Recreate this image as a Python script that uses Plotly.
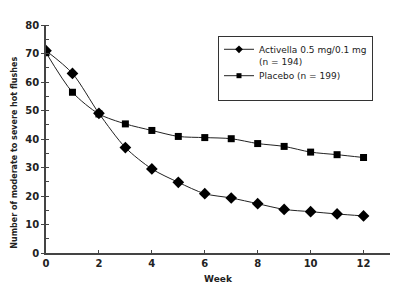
import plotly.graph_objects as go

weeks = list(range(13))
activella = [71, 63, 49, 37, 29.5, 24.8, 20.8, 19.3, 17.3, 15.3, 14.5, 13.7, 13.0]
placebo = [70.3, 56.4, 48.8, 45.3, 43.0, 40.9, 40.5, 40.1, 38.4, 37.4, 35.4, 34.5, 33.5]
xticks = [0, 2, 4, 6, 8, 10, 12]
yticks = [0, 10, 20, 30, 40, 50, 60, 70, 80]
names = ["Activella 0.5 mg/0.1 mg<br>(n = 194)", "Placebo (n = 199)<br>&nbsp;"]

fig = go.Figure()
line = dict(color="#222", width=1, shape="spline", smoothing=0.8)
fig.add_trace(go.Scatter(
    x=weeks, y=activella, mode="lines+markers", showlegend=False,
    line=line, marker=dict(symbol="diamond", size=9, color="black"),
))
fig.add_trace(go.Scatter(
    x=weeks, y=placebo, mode="lines+markers", showlegend=False,
    line=line, marker=dict(symbol="square", size=7, color="black"),
))
# legend entries with small symbols
fig.add_trace(go.Scatter(
    x=[None], y=[None], mode="lines+markers", name=names[0],
    line=dict(color="#222", width=1), marker=dict(symbol="diamond", size=6, color="black"),
))
fig.add_trace(go.Scatter(
    x=[None], y=[None], mode="lines+markers", name=names[1],
    line=dict(color="#222", width=1), marker=dict(symbol="square", size=5, color="black"),
))

fig.update_layout(
    width=400, height=297,
    margin=dict(l=46, r=10, t=25, b=44),
    paper_bgcolor="white", plot_bgcolor="white",
    font=dict(family="DejaVu Sans", size=9, color="#222"),
    showlegend=True,
    legend=dict(
        x=0.5, y=0.952, xanchor="left", yanchor="top",
        bordercolor="#333", borderwidth=1, bgcolor="white",
        font=dict(family="DejaVu Sans", size=9, color="#222"),
        itemwidth=30, tracegroupgap=0, valign="top",
    ),
    xaxis=dict(
        range=[0, 13], tickvals=xticks, ticktext=[str(v) for v in xticks],
        showline=True, linecolor="#444", linewidth=1.5, showgrid=False, zeroline=False,
        ticks="inside", ticklen=3, tickcolor="#444",
        tickfont=dict(family="DejaVu Sans", size=10, color="#222", weight="bold"),
        title=dict(text="<b>Week</b>", font=dict(family="DejaVu Sans", size=9, color="#222"), standoff=8),
    ),
    yaxis=dict(
        range=[0, 80], tickvals=yticks, ticktext=[str(v) for v in yticks],
        showline=True, linecolor="#444", linewidth=1.5, showgrid=False, zeroline=False,
        ticks="outside", ticklen=3, tickcolor="#444",
        minor=dict(dtick=5, ticks="inside", ticklen=3, tickcolor="#444"),
        tickfont=dict(family="DejaVu Sans", size=10, color="#222", weight="bold"),
    ),
    annotations=[dict(
        text="<b>Number of moderate to severe hot flushes</b>",
        textangle=-90, xref="paper", yref="paper", x=-0.09, y=0.44,
        xanchor="center", yanchor="middle", showarrow=False,
        font=dict(family="DejaVu Sans", size=8, color="#222"),
    )],
)
fig.write_html("out.html")
